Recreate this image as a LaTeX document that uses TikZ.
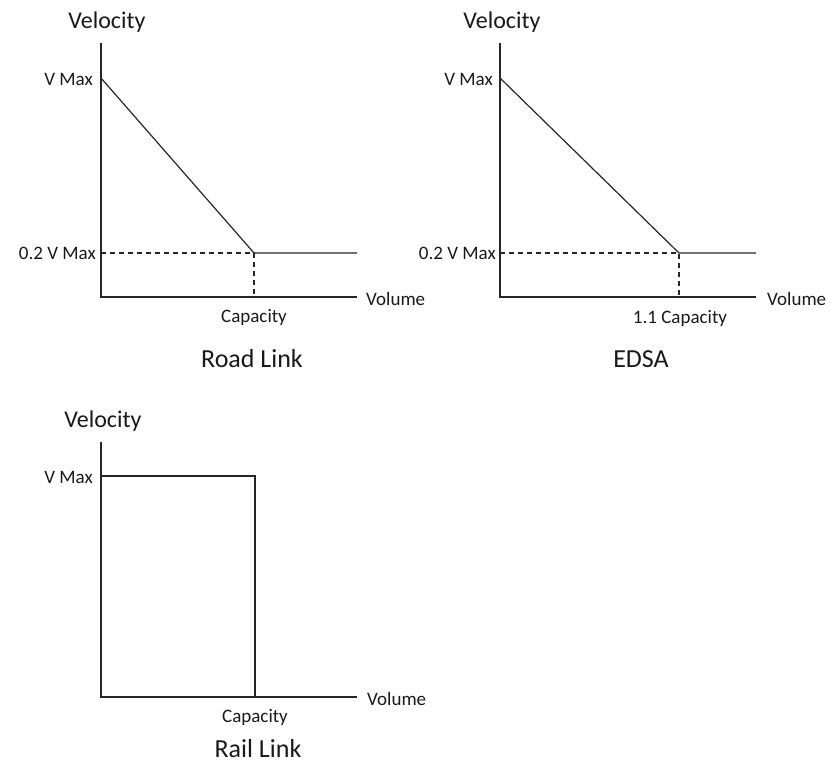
\documentclass[tikz,border=0pt]{standalone}
\usepackage{fontspec}
\setmainfont{Carlito}
\usepackage{tikz}
\usetikzlibrary{positioning}

\tikzset{
  axisline/.style={line width=1.3pt, black!85},
  curveline/.style={line width=1.2pt, black!85},
  guideline/.style={line width=1.2pt, black!85, dash pattern=on 5pt off 4pt},
  ticklbl/.style={font=\fontsize{19}{22}\selectfont, text=black!90, inner sep=0pt},
  axislbl/.style={font=\fontsize{24}{28}\selectfont, text=black!90, inner sep=0pt},
  titlelbl/.style={font=\fontsize{26}{30}\selectfont, text=black!90, inner sep=0pt}
}

\begin{document}
\begin{tikzpicture}[x=1pt, y=1pt]
    \useasboundingbox (0,0) rectangle (831,-763);

    % Road Link
    \coordinate (ra-top) at (101,-43);
    \coordinate (ra-org) at (101,-297);
    \coordinate (ra-end) at (357,-297);
    \coordinate (ra-vmax) at (101,-78);
    \coordinate (ra-low) at (101,-253);
    \coordinate (ra-knee) at (254,-253);
    \coordinate (ra-flat) at (357,-253);
    \coordinate (ra-cap) at (254,-297);
    \draw[axisline] (ra-top) -- (ra-org) -- (ra-end);
    \draw[curveline] (ra-vmax) -- (ra-knee) -- (ra-flat);
    \draw[guideline] (ra-low) -- (ra-knee) -- (ra-cap);
    \node[axislbl, anchor=base] (ra-vel) at (107,-28) {Velocity};
    \node[ticklbl, anchor=base east] (ra-vm) at (93,-85) {V Max};
    \node[ticklbl, anchor=base east] (ra-lo) at (96,-259) {0.2 V Max};
    \node[ticklbl, anchor=base west] (ra-vol) at (366,-305) {Volume};
    \node[ticklbl, anchor=base] (ra-capl) at (254,-322) {Capacity};
    \node[titlelbl, anchor=base] (ra-title) at (252,-367) {Road Link};

    % EDSA
    \coordinate (ed-top) at (500,-43);
    \coordinate (ed-org) at (500,-297);
    \coordinate (ed-end) at (756,-297);
    \coordinate (ed-vmax) at (500,-78);
    \coordinate (ed-low) at (500,-253);
    \coordinate (ed-knee) at (679,-253);
    \coordinate (ed-flat) at (756,-253);
    \coordinate (ed-cap) at (679,-297);
    \draw[axisline] (ed-top) -- (ed-org) -- (ed-end);
    \draw[curveline] (ed-vmax) -- (ed-knee) -- (ed-flat);
    \draw[guideline] (ed-low) -- (ed-knee) -- (ed-cap);
    \node[axislbl, anchor=base] (ed-vel) at (502,-28) {Velocity};
    \node[ticklbl, anchor=base east] (ed-vm) at (493,-85) {V Max};
    \node[ticklbl, anchor=base east] (ed-lo) at (496,-259) {0.2 V Max};
    \node[ticklbl, anchor=base west] (ed-vol) at (767,-305) {Volume};
    \node[ticklbl, anchor=base] (ed-capl) at (680,-323) {1.1 Capacity};
    \node[titlelbl, anchor=base] (ed-title) at (641,-367) {EDSA};

    % Rail Link
    \coordinate (rl-top) at (101,-442);
    \coordinate (rl-org) at (101,-697);
    \coordinate (rl-end) at (357,-697);
    \coordinate (rl-vmax) at (101,-476);
    \coordinate (rl-step) at (255,-476);
    \coordinate (rl-cap) at (255,-697);
    \draw[axisline] (rl-top) -- (rl-org) -- (rl-end);
    \draw[curveline] (rl-vmax) -- (rl-step) -- (rl-cap);
    \node[axislbl, anchor=base] (rl-vel) at (103,-427) {Velocity};
    \node[ticklbl, anchor=base east] (rl-vm) at (93,-483) {V Max};
    \node[ticklbl, anchor=base west] (rl-vol) at (367,-705) {Volume};
    \node[ticklbl, anchor=base] (rl-capl) at (255,-722) {Capacity};
    \node[titlelbl, anchor=base] (rl-title) at (258,-757) {Rail Link};
\end{tikzpicture}
\end{document}
